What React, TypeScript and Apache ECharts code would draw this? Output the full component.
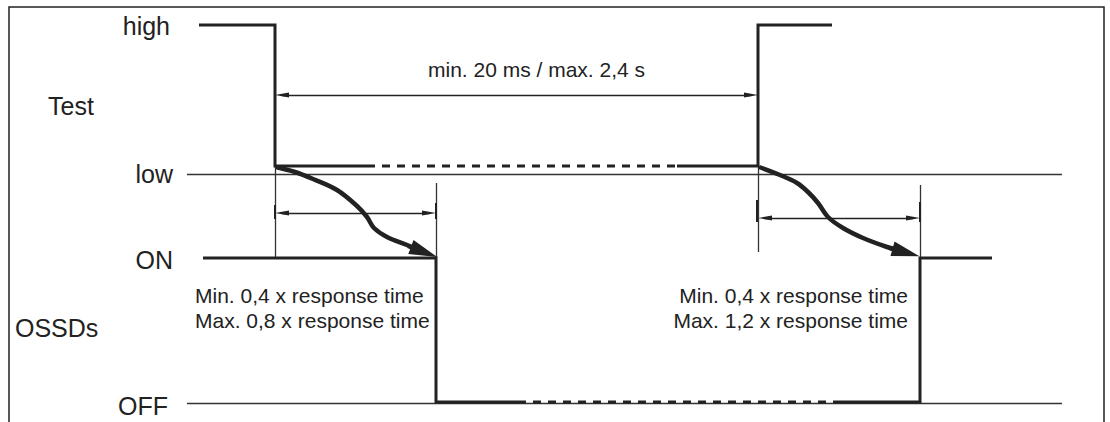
import React, { useEffect, useRef } from 'react';
import * as echarts from 'echarts';

// Diagram units: time (x) and signal level (y, axis inverted)
const HIGH = 25;
const LOW = 166;
const LOW_REF = 174;
const ON = 258;
const OFF = 402;
const OFF_REF = 403;

// Test signal
const testSolidA = [[199, HIGH], [275, HIGH], [275, LOW], [367, LOW]];
const testDashed = [[367, LOW], [677, LOW]];
const testSolidB = [[677, LOW], [758, LOW], [758, HIGH], [832, HIGH]];

// OSSD signal
const ossdSolidA = [[203, ON], [436, ON], [436, OFF], [518, OFF]];
const ossdDashed = [[518, OFF], [837, OFF]];
const ossdSolidB = [[837, OFF], [920, OFF], [920, ON], [992, ON]];

// Cause-effect curves
const curveA = [[276, 167], [295, 172], [313, 179], [337, 190], [357, 206], [367, 217], [374, 228], [387, 237], [407, 245], [422, 251]];
const curveAHead = [[408, 246], [424, 252]];
const curveB = [[759, 167], [780, 175], [797, 183], [808, 192], [818, 203], [828, 217], [843, 228], [863, 238], [887, 247], [904, 252]];
const curveBHead = [[890, 248], [906, 252.5]];

// Reference / extension lines
const refLines = [
  [[187, LOW_REF], [1062, LOW_REF]],
  [[187, OFF_REF], [1062, OFF_REF]],
  [[275, LOW], [275, ON]],
  [[436, 183], [436, ON]],
  [[758, LOW], [758, 252]],
  [[920, 185], [920, ON]],
];
const tickLines = [
  [[275, 205], [275, 219]],
  [[436, 203], [436, 219]],
  [[757, 200], [757, 222]],
  [[920, 202], [920, 222]],
];
// Dimension arrows
const dimArrows = [
  [[282, 95], [751, 95]],
  [[282, 213], [429, 213]],
  [[765, 218], [913, 218]],
];
const frame = [[9, 422], [9, 7], [1104, 7], [1104, 422]];

// Texts
const levelLabels = ['high', 'low', 'ON', 'OFF'];
const groupLabels = ['Test', 'OSSDs'];
const periodLabel = 'min. 20 ms / max. 2,4 s';
const leftNote = ['Min. 0,4 x response time', 'Max. 0,8 x response time'];
const rightNote = ['Min. 0,4 x response time', 'Max. 1,2 x response time'];

const INK = '#222';
const FONT = 'Liberation Sans, Arial, Helvetica, sans-serif';

function lineSeries(data: number[][], width: number, dashed = false, smooth: number | false = false, z = 3) {
  return {
    type: 'line',
    data,
    symbol: 'none',
    smooth,
    clip: false,
    z,
    lineStyle: { color: INK, width, type: dashed ? [8, 7] : 'solid', cap: 'butt', join: 'miter' },
    silent: true,
  };
}

function segs(list: number[][][]) {
  return list.map((c) => ({ coords: c }));
}

export default function App() {
  const ref = useRef<HTMLDivElement>(null);
  useEffect(() => {
    if (!ref.current) return;
    const chart = echarts.init(ref.current, undefined, { renderer: 'svg' });
    const txt = (text: string, x: number, y: number, size: number, align: string) => ({
      type: 'text',
      x,
      y,
      silent: true,
      style: { text, fill: INK, fontSize: size, fontFamily: FONT, align, verticalAlign: 'middle' },
    });
    chart.setOption({
      animation: false,
      backgroundColor: '#fff',
      grid: { left: 0, right: 0, top: 0, bottom: 0 },
      xAxis: { type: 'value', min: 0, max: 1110, show: false },
      yAxis: { type: 'value', min: 0, max: 422, inverse: true, show: false },
      series: [
        lineSeries(frame, 1.5, false, false, 1),
        {
          type: 'lines',
          coordinateSystem: 'cartesian2d',
          data: segs(refLines),
          lineStyle: { color: '#333', width: 1.3, opacity: 1 },
          z: 2,
          silent: true,
        },
        {
          type: 'lines',
          coordinateSystem: 'cartesian2d',
          data: segs(tickLines),
          lineStyle: { color: INK, width: 2, opacity: 1 },
          z: 2,
          silent: true,
        },
        {
          type: 'lines',
          coordinateSystem: 'cartesian2d',
          data: segs(dimArrows),
          symbol: ['triangle', 'triangle'],
          symbolSize: [[5, 14], [5, 14]],
          lineStyle: { color: INK, width: 1.3, opacity: 1 },
          z: 2,
          silent: true,
        },
        lineSeries(testSolidA, 3),
        lineSeries(testDashed, 3, true),
        lineSeries(testSolidB, 3),
        lineSeries(ossdSolidA, 3),
        lineSeries(ossdDashed, 3, true),
        lineSeries(ossdSolidB, 3),
        lineSeries(curveA, 4.5, false, 0.35, 4),
        lineSeries(curveB, 4.5, false, 0.35, 4),
        {
          type: 'lines',
          coordinateSystem: 'cartesian2d',
          data: segs([curveAHead, curveBHead]),
          symbol: ['none', 'triangle'],
          symbolSize: [0, [15, 28]],
          lineStyle: { color: INK, width: 4.5, opacity: 1 },
          z: 4,
          silent: true,
        },
      ],
      graphic: [
        txt(levelLabels[0], 170, 26, 25, 'right'),
        txt(levelLabels[1], 173, 174, 25, 'right'),
        txt(levelLabels[2], 173, 260, 25, 'right'),
        txt(levelLabels[3], 168, 406, 25, 'right'),
        txt(groupLabels[0], 48, 106, 25, 'left'),
        txt(groupLabels[1], 15, 328, 25, 'left'),
        txt(periodLabel, 428, 69, 21, 'left'),
        txt(leftNote[0], 195, 295, 21, 'left'),
        txt(leftNote[1], 195, 320, 21, 'left'),
        txt(rightNote[0], 908, 295, 21, 'right'),
        txt(rightNote[1], 908, 320, 21, 'right'),
      ],
    });
    return () => chart.dispose();
  }, []);
  return <div ref={ref} style={{ position: 'absolute', left: 0, top: 0, width: 1110, height: 422 }} />;
}
